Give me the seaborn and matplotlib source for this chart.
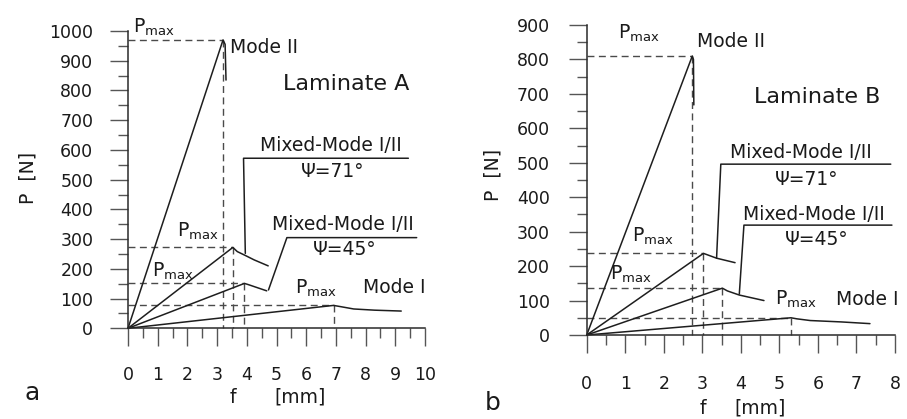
import numpy as np
import pandas as pd
import matplotlib
matplotlib.use('Agg')
import matplotlib.pyplot as plt
import seaborn as sns
from matplotlib.ticker import MultipleLocator

sns.set_theme(style='ticks')
plt.rcParams['font.family'] = ['DejaVu Sans']
plt.rcParams['mathtext.default'] = 'regular'
plt.rcParams.update({
    'xtick.bottom': True, 'ytick.left': True,
    'xtick.direction': 'out', 'ytick.direction': 'out',
    'xtick.major.size': 13, 'ytick.major.size': 13,
    'xtick.minor.size': 7.2, 'ytick.minor.size': 7.2,
    'xtick.major.width': 1.0, 'ytick.major.width': 1.0,
    'xtick.minor.width': 1.0, 'ytick.minor.width': 1.0,
    'xtick.color': '#555555', 'ytick.color': '#555555',
    'xtick.labelcolor': '#1a1a1a', 'ytick.labelcolor': '#1a1a1a',
    'xtick.minor.visible': True, 'ytick.minor.visible': True,
})

# ---------------- data (Laminate A) ----------------
a_modeII_f = [0, 3.20, 3.27, 3.30]
a_modeII_P = [0, 970, 955, 835]
a_mm71_f = [0, 3.53, 3.68, 3.95, 4.25, 4.72]
a_mm71_P = [0, 272, 258, 245, 230, 210]
a_mm45_f = [0, 3.92, 4.05, 4.67]
a_mm45_P = [0, 151, 147, 126]
a_modeI_f = [0, 6.92, 7.15, 7.6, 8.3, 9.2]
a_modeI_P = [0, 77, 73, 65, 61, 58]

# ---------------- data (Laminate B) ----------------
b_modeII_f = [0, 2.74, 2.77, 2.78]
b_modeII_P = [0, 810, 800, 668]
b_mm71_f = [0, 3.03, 3.37, 3.85]
b_mm71_P = [0, 237, 223, 210]
b_mm45_f = [0, 3.52, 3.65, 3.96, 4.60]
b_mm45_P = [0, 136, 128, 116, 100]
b_modeI_f = [0, 5.30, 5.45, 5.80, 6.60, 7.35]
b_modeI_P = [0, 50, 47, 42, 38, 33]

curve_names = ['Mode II', 'Mixed 71', 'Mixed 45', 'Mode I']

x_ticks_A = list(range(0, 11))
y_ticks_A = list(range(0, 1001, 100))
x_ticks_B = list(range(0, 9))
y_ticks_B = list(range(0, 901, 100))


def build(fs, Ps):
    frames = []
    for name, f, P in zip(curve_names, fs, Ps):
        frames.append(pd.DataFrame({'f': f, 'P': P, 'curve': name}))
    return pd.concat(frames, ignore_index=True)


dfA = build([a_modeII_f, a_mm71_f, a_mm45_f, a_modeI_f],
            [a_modeII_P, a_mm71_P, a_mm45_P, a_modeI_P])
dfB = build([b_modeII_f, b_mm71_f, b_mm45_f, b_modeI_f],
            [b_modeII_P, b_mm71_P, b_mm45_P, b_modeI_P])

W, H = 907, 419
fig = plt.figure(figsize=(W / 100, H / 100), dpi=100)


def rect(x0, y0, x1, y1):
    return [x0 / W, 1 - y1 / H, (x1 - x0) / W, (y1 - y0) / H]


axA = fig.add_axes(rect(128, 31, 425, 328.3))
axB = fig.add_axes(rect(586.7, 25, 895, 335))

LINE_C = '#1e1e1e'
DASH_C = '#4a4a4a'
FS = 12.5


def style_axis(ax, xt, yt, xpad, ypad):
    ax.set_xlim(xt[0], xt[-1])
    ax.set_ylim(yt[0], yt[-1])
    ax.set_xticks(xt)
    ax.set_yticks(yt)
    ax.xaxis.set_minor_locator(MultipleLocator(0.5))
    ax.yaxis.set_minor_locator(MultipleLocator(50))
    for s in ['top', 'right']:
        ax.spines[s].set_visible(False)
    for s in ['left', 'bottom']:
        ax.spines[s].set_color('#2a2a2a')
        ax.spines[s].set_linewidth(1.1)
    ax.tick_params(axis='both', which='major', labelsize=FS)
    ax.tick_params(axis='x', which='major', pad=xpad)
    ax.tick_params(axis='y', which='major', pad=ypad)
    ax.set_xlabel('')
    ax.set_ylabel('')
    ax.grid(False)
    ax.set_facecolor('none')


def draw_panel(ax, df):
    sns.lineplot(data=df, x='f', y='P', units='curve', estimator=None,
                 sort=False, color=LINE_C, lw=1.1, ax=ax, legend=False,
                 clip_on=False)
    for name in curve_names:
        sub = df[df['curve'] == name]
        i = int(np.argmax(sub['P'].values))
        fp, Pp = sub['f'].values[i], sub['P'].values[i]
        ax.plot([0, fp], [Pp, Pp], color=DASH_C, lw=1.0,
                dashes=(5, 3.2), clip_on=False, zorder=1)
        ax.plot([fp, fp], [Pp, 0], color=DASH_C, lw=1.0,
                dashes=(5, 3.2), clip_on=False, zorder=1)


draw_panel(axA, dfA)
draw_panel(axB, dfB)
style_axis(axA, x_ticks_A, y_ticks_A, 14.5, 12)
style_axis(axB, x_ticks_B, y_ticks_B, 15.5, 13.5)

PM = r'P$_{max}$'
TK = dict(fontsize=13.5, color='#1a1a1a', va='baseline', ha='left')
TC = dict(fontsize=13.5, color='#1a1a1a', va='baseline', ha='center')

# ---- Laminate A annotations
axA.text(0.18, 993, PM, **TK)
axA.text(3.43, 926, 'Mode II', **TK)
axA.text(5.23, 802, 'Laminate A', fontsize=16, color='#1a1a1a',
         va='baseline', ha='left')
axA.text(4.44, 595, 'Mixed-Mode I/II', **TK)
axA.text(6.9, 510, 'Ψ=71°', **TC)
axA.text(4.84, 331, 'Mixed-Mode I/II', **TK)
axA.text(7.3, 247, 'Ψ=45°', **TC)
axA.text(1.64, 308, PM, **TK)
axA.text(0.80, 174, PM, **TK)
axA.text(5.62, 118, PM, **TK)
axA.text(7.92, 118, 'Mode I', **TK)
axA.plot([3.95, 3.89, 9.44], [252, 572, 572], color=LINE_C, lw=1.1,
         clip_on=False)
axA.plot([4.73, 5.35, 9.72], [129, 305, 305], color=LINE_C, lw=1.1,
         clip_on=False)

# ---- Laminate B annotations
axB.text(0.82, 861, PM, **TK)
axB.text(2.85, 837, 'Mode II', **TK)
axB.text(4.33, 673, 'Laminate B', fontsize=16, color='#1a1a1a',
         va='baseline', ha='left')
axB.text(3.72, 513, 'Mixed-Mode I/II', **TK)
axB.text(5.71, 435, 'Ψ=71°', **TC)
axB.text(4.05, 334, 'Mixed-Mode I/II', **TK)
axB.text(5.97, 261, 'Ψ=45°', **TC)
axB.text(1.17, 271, PM, **TK)
axB.text(0.60, 160, PM, **TK)
axB.text(4.89, 87, PM, **TK)
axB.text(6.48, 87, 'Mode I', **TK)
axB.plot([3.37, 3.48, 7.89], [223, 496, 496], color=LINE_C, lw=1.1,
         clip_on=False)
axB.plot([3.96, 4.08, 7.92], [119, 319, 319], color=LINE_C, lw=1.1,
         clip_on=False)


# ---- figure-level labels
def ftext(x, y, s, **kw):
    fig.text(x / W, 1 - y / H, s, color='#1a1a1a', **kw)


ftext(32, 393, 'a', fontsize=18, ha='center', va='center')
ftext(493, 403, 'b', fontsize=18, ha='center', va='center')
ftext(233, 397, 'f', fontsize=13.5, ha='center', va='center')
ftext(300, 397, '[mm]', fontsize=13.5, ha='center', va='center')
ftext(703, 408, 'f', fontsize=13.5, ha='center', va='center')
ftext(760, 408, '[mm]', fontsize=13.5, ha='center', va='center')
ftext(28, 178, 'P  [N]', fontsize=13.5, ha='center', va='center',
      rotation=90)
ftext(493, 175, 'P  [N]', fontsize=13.5, ha='center', va='center',
      rotation=90)

fig.savefig('out.png', dpi=100, facecolor='white')
